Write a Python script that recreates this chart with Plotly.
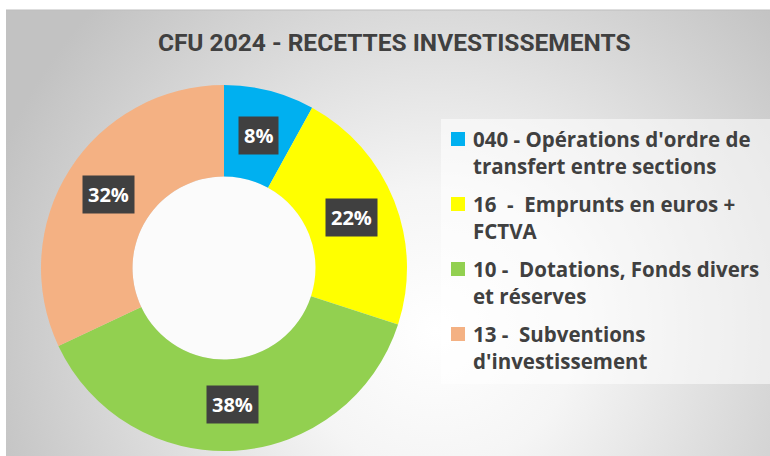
import base64
import math
import plotly.graph_objects as go

# ---- data ----
categories = [
    "040 - Opérations d'ordre de<br>transfert entre sections",
    "16  -  Emprunts en euros +<br>FCTVA",
    "10 -  Dotations, Fonds divers<br>et réserves",
    "13 -  Subventions<br>d'investissement",
]
values = [8, 22, 38, 32]
colors = ["#00B0F0", "#FFFF00", "#92D050", "#F4B183"]
title_text = "CFU 2024 - RECETTES INVESTISSEMENTS"

# ---- layout constants (pixels) ----
W, H = 770, 456
CX, CY = 224, 268          # donut centre
R = 183                    # outer radius
HOLE = 0.5
TXT = "#404040"

def px(x):
    return x / W

def py(y):
    return 1 - y / H

fig = go.Figure()

fig.add_trace(go.Pie(
    labels=[c.replace("<br>", " ") for c in categories],
    values=values,
    marker=dict(colors=colors, line=dict(width=0)),
    hole=HOLE,
    sort=False,
    direction="clockwise",
    rotation=0,
    textinfo="none",
    hoverinfo="label+percent",
    showlegend=False,
    domain=dict(x=[px(CX - R), px(CX + R)], y=[py(CY + R), py(CY - R)]),
))

annotations = []
shapes = []

# data labels in dark boxes at mid-ring, computed from values
total = sum(values)
cum = 0
r_lab = R * (1 + HOLE) / 2
for v in values:
    mid = (cum + v / 2) / total * 2 * math.pi
    cum += v
    lx = CX + r_lab * math.sin(mid)
    ly = CY - r_lab * math.cos(mid)
    annotations.append(dict(
        x=px(lx), y=py(ly), xref="paper", yref="paper",
        text="<b>%d%%</b>" % round(v / total * 100),
        showarrow=False, bgcolor="#404040", borderpad=5,
        font=dict(family="Open Sans", size=20, color="white"),
        xanchor="center", yanchor="middle",
    ))

# custom legend
LEG_X0, LEG_X1, LEG_Y0, LEG_Y1 = 441, 770, 119, 384
shapes.append(dict(type="rect", xref="paper", yref="paper",
                   x0=px(LEG_X0), x1=px(LEG_X1), y0=py(LEG_Y1), y1=py(LEG_Y0),
                   fillcolor="rgba(255,255,255,0.55)", line=dict(width=0), layer="below"))
for i, (cat, col) in enumerate(zip(categories, colors)):
    y1 = 139 + 65 * i
    shapes.append(dict(type="rect", xref="paper", yref="paper",
                       x0=px(451), x1=px(465), y0=py(y1 + 7), y1=py(y1 - 7),
                       fillcolor=col, line=dict(width=0)))
    for j, line in enumerate(cat.split("<br>")):
        annotations.append(dict(
            x=px(471), y=py(y1 + 27 * j), xref="paper", yref="paper",
            text="<b>%s</b>" % line, showarrow=False,
            xanchor="left", yanchor="middle",
            font=dict(family="Open Sans", size=20.5, color=TXT),
        ))

# white hole background
hr = R * HOLE
shapes.append(dict(type="circle", xref="paper", yref="paper",
                   x0=px(CX - hr), x1=px(CX + hr), y0=py(CY + hr), y1=py(CY - hr),
                   fillcolor="#fbfbfb", line=dict(width=0), layer="below"))

# top border line of chart area
shapes.append(dict(type="line", xref="paper", yref="paper",
                   x0=px(6), x1=1, y0=py(10), y1=py(10),
                   line=dict(color="#bdbdbd", width=1), layer="below"))

# radial gradient background
BW, BH = W - 6, H - 10
svg = (
    '<svg xmlns="http://www.w3.org/2000/svg" width="%d" height="%d" preserveAspectRatio="none">'
    '<defs><radialGradient id="g" gradientUnits="userSpaceOnUse" cx="430" cy="320" r="470">'
    '<stop offset="0" stop-color="#ffffff"/>'
    '<stop offset="0.3" stop-color="#f5f5f5"/>'
    '<stop offset="1" stop-color="#c2c2c2"/>'
    '</radialGradient></defs>'
    '<rect width="%d" height="%d" fill="url(#g)"/></svg>' % (BW, BH, BW, BH)
)
src = "data:image/svg+xml;base64," + base64.b64encode(svg.encode()).decode()

fig.update_layout(
    width=W, height=H,
    margin=dict(l=0, r=0, t=0, b=0),
    paper_bgcolor="white",
    plot_bgcolor="rgba(0,0,0,0)",
    title=dict(text="<b>%s</b>" % title_text, x=0.512, xanchor="center",
               y=py(42), yanchor="middle",
               font=dict(family="Roboto", size=24.5, color=TXT)),
    images=[dict(source=src, xref="paper", yref="paper", x=px(6), y=py(10),
                 sizex=1 - px(6), sizey=py(10), xanchor="left", yanchor="top",
                 sizing="stretch", layer="below")],
    shapes=shapes,
    annotations=annotations,
)

fig.write_html("out.html",
               config={"displayModeBar": False},
               post_script="document.body.style.margin='0';document.body.style.overflow='hidden';")
